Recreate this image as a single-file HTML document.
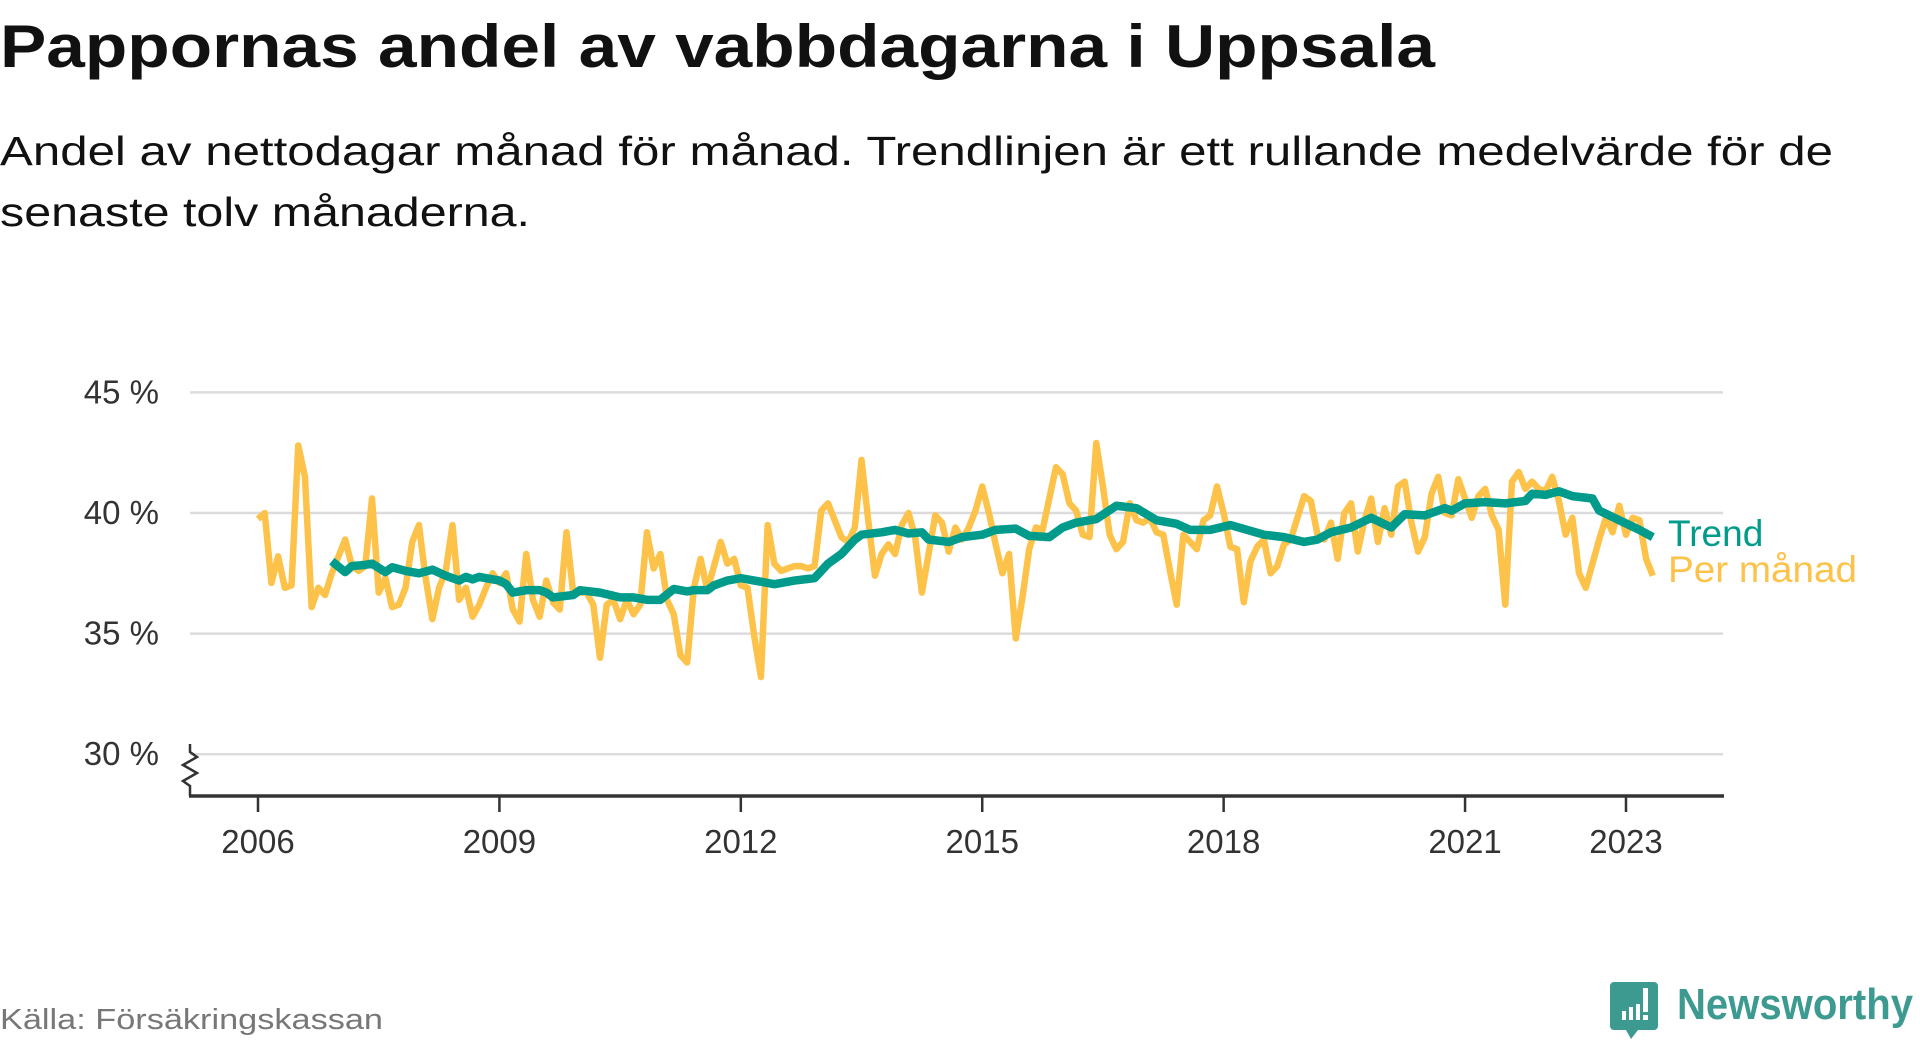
<!DOCTYPE html>
<html><head><meta charset="utf-8"><style>
html,body{margin:0;padding:0;background:#fff;}
svg{display:block;font-family:"Liberation Sans",sans-serif;}
</style></head><body>
<svg id="chart" width="1920" height="1040" viewBox="0 0 1920 1040" xmlns="http://www.w3.org/2000/svg">
<text x="0" y="67" font-size="60" font-weight="bold" fill="#111" textLength="1435" lengthAdjust="spacingAndGlyphs">Pappornas andel av vabbdagarna i Uppsala</text>
<text x="0" y="165" font-size="41" fill="#111" textLength="1833" lengthAdjust="spacingAndGlyphs">Andel av nettodagar månad för månad. Trendlinjen är ett rullande medelvärde för de</text>
<text x="0" y="226" font-size="41" fill="#111" textLength="530" lengthAdjust="spacingAndGlyphs">senaste tolv månaderna.</text>
<g id="grid"></g>
<g id="axes"></g>
<g id="series"></g>
<text x="1668" y="546" font-size="37" fill="#009b8b">Trend</text>
<text x="1668" y="582" font-size="37" fill="#fdc24a" textLength="189" lengthAdjust="spacingAndGlyphs">Per månad</text>
<text x="0" y="1029" font-size="29" fill="#777" textLength="383" lengthAdjust="spacingAndGlyphs">Källa: Försäkringskassan</text>
<g>
<path d="M1614 982 h40 a4 4 0 0 1 4 4 v40 a4 4 0 0 1 -4 4 h-16 l-7 9 l-5 -9 h-12 a4 4 0 0 1 -4 -4 v-40 a4 4 0 0 1 4 -4z" fill="#3d9a90"/>
<rect x="1622" y="1011" width="4" height="9" fill="#fff"/>
<rect x="1629" y="1007" width="4" height="13" fill="#fff"/>
<rect x="1636" y="1004" width="4" height="16" fill="#fff"/>
<rect x="1643" y="988" width="5" height="24" fill="#fff"/>
<rect x="1643" y="1015" width="5" height="5" fill="#fff"/>
<text x="1677" y="1019" font-size="44" font-weight="bold" fill="#3d9a90" textLength="236" lengthAdjust="spacingAndGlyphs">Newsworthy</text>
</g>
</svg>
<script>
const yTicks = [30, 35, 40, 45];
const yTickLabels = ["30 %", "35 %", "40 %", "45 %"];
const xTickYears = [2006, 2009, 2012, 2015, 2018, 2021, 2023];
const startYear = 2006;
const monthly = [39.75,40.0,37.1,38.2,36.9,37.0,42.8,41.5,36.1,36.9,36.6,37.5,38.2,38.9,37.8,37.6,37.8,40.6,36.7,37.3,36.1,36.2,36.9,38.8,39.5,37.3,35.6,36.9,37.6,39.5,36.4,36.9,35.7,36.2,36.9,37.5,37.1,37.5,36.0,35.5,38.3,36.4,35.7,37.2,36.3,36.0,39.2,36.7,36.7,36.7,36.2,34.0,36.2,36.4,35.6,36.4,35.8,36.2,39.2,37.7,38.3,36.4,35.8,34.1,33.8,36.9,38.1,36.8,37.8,38.8,
37.9,38.1,37.0,36.9,34.9,33.2,39.5,37.9,37.6,37.7,37.8,37.8,37.7,37.8,40.1,40.4,39.7,39.0,38.8,39.4,42.2,39.7,37.4,38.3,38.7,38.3,39.5,40.0,39.0,36.7,38.3,39.9,39.6,38.4,39.4,38.9,39.4,40.1,41.1,40.0,38.7,37.5,38.3,34.8,36.5,38.5,39.4,39.3,40.6,41.9,41.6,40.4,40.1,39.1,39.0,42.9,41.1,39.1,38.5,38.8,40.4,39.7,39.6,39.8,39.2,39.1,37.6,36.2,39.1,38.8,38.5,39.7,39.9,41.1,40.0,38.6,38.5,36.3,38.0,38.6,
38.9,37.5,37.8,38.7,38.9,39.8,40.7,40.5,39.1,38.9,39.6,38.1,40.0,40.4,38.4,39.7,40.6,38.8,40.2,39.1,41.1,41.3,39.6,38.4,39.0,40.8,41.5,40.0,39.9,41.4,40.6,39.8,40.7,41.0,39.9,39.3,36.2,41.3,41.7,41.0,41.3,41.0,40.9,41.5,40.5,39.1,39.8,37.5,36.9,37.9,38.9,39.8,39.2,40.3,39.1,39.8,39.7,38.1,37.4];
const trendMonths = [11,13,14,16,17,19,20,22,24,26,28,30,31,32,33,36,37,38,40,42,43,44,47,48,51,54,56,58,60,62,64,65,67,68,70,72,74,77,80,83,85,87,89,90,93,95,97,99,100,103,105,108,110,113,115,118,120,122,125,128,131,134,137,139,142,145,150,153,156,158,160,163,166,169,171,174,177,178,180,183,186,189,190,192,194,196,199,200,203,206,208];
const trendValues = [38.0,37.55,37.8,37.85,37.9,37.55,37.75,37.6,37.5,37.65,37.4,37.2,37.35,37.25,37.35,37.2,37.05,36.7,36.8,36.8,36.7,36.5,36.6,36.8,36.7,36.5,36.5,36.4,36.4,36.85,36.75,36.8,36.8,37.0,37.2,37.3,37.2,37.05,37.2,37.3,37.9,38.3,38.9,39.1,39.2,39.3,39.15,39.2,38.9,38.8,39.0,39.1,39.3,39.35,39.05,39.0,39.4,39.6,39.75,40.3,40.2,39.7,39.55,39.3,39.3,39.5,39.1,39.0,38.8,38.9,39.2,39.4,39.8,39.4,39.95,39.9,40.2,40.1,40.4,40.45,40.4,40.5,40.8,40.75,40.9,40.7,40.6,40.1,39.7,39.3,39.0];

const NS = "http://www.w3.org/2000/svg";
const X0 = 258, PER_MONTH = 80.47 / 12;
const Y40 = 513, PER_PCT = 24.12;
const xScale = m => X0 + m * PER_MONTH;
const yScale = v => Y40 - (v - 40) * PER_PCT;
function mk(tag, attrs, parent) { const e = document.createElementNS(NS, tag); for (const k in attrs) e.setAttribute(k, attrs[k]); parent.appendChild(e); return e; }

const grid = document.getElementById('grid');
yTicks.forEach((t, i) => {
  const l = mk('line', {x1:190, x2:1723, y1:yScale(t), y2:yScale(t), stroke:'#dcdcdc', 'stroke-width':2.5}, grid);
  
  
  const tx = mk('text', {x:159, y:yScale(t)+11, 'font-size':33, fill:'#333', 'text-anchor':'end'}, grid);
  tx.textContent = yTickLabels[i];
  
  
});
const axes = document.getElementById('axes');
const ax = mk('line', {x1:189, x2:1724, y1:796, y2:796, stroke:'#333', 'stroke-width':3.5}, axes);


const zz = mk('polyline', {points:'190,744 190,752 197,757 183,765 197,773 183,781 190,786 190,796', fill:'none', stroke:'#333', 'stroke-width':2.5}, axes);


xTickYears.forEach(yr => {
  const x = xScale((yr - startYear) * 12);
  const t = mk('line', {x1:x, x2:x, y1:797, y2:812, stroke:'#333', 'stroke-width':2.5}, axes);
  
  
  const tx = mk('text', {x:x, y:853, 'font-size':33, fill:'#333', 'text-anchor':'middle'}, axes);
  tx.textContent = yr;
  
  
});
const series = document.getElementById('series');
const p1 = mk('polyline', {points: monthly.map((v, i) => xScale(i) + ',' + yScale(v)).join(' '), fill:'none', stroke:'#fdc24a', 'stroke-width':6.5, 'stroke-linejoin':'round'}, series);


const p2 = mk('polyline', {points: trendValues.map((v, i) => xScale(trendMonths[i]) + ',' + yScale(v)).join(' '), fill:'none', stroke:'#009b8b', 'stroke-width':8.5, 'stroke-linejoin':'round'}, series);


</script>
</body></html>
